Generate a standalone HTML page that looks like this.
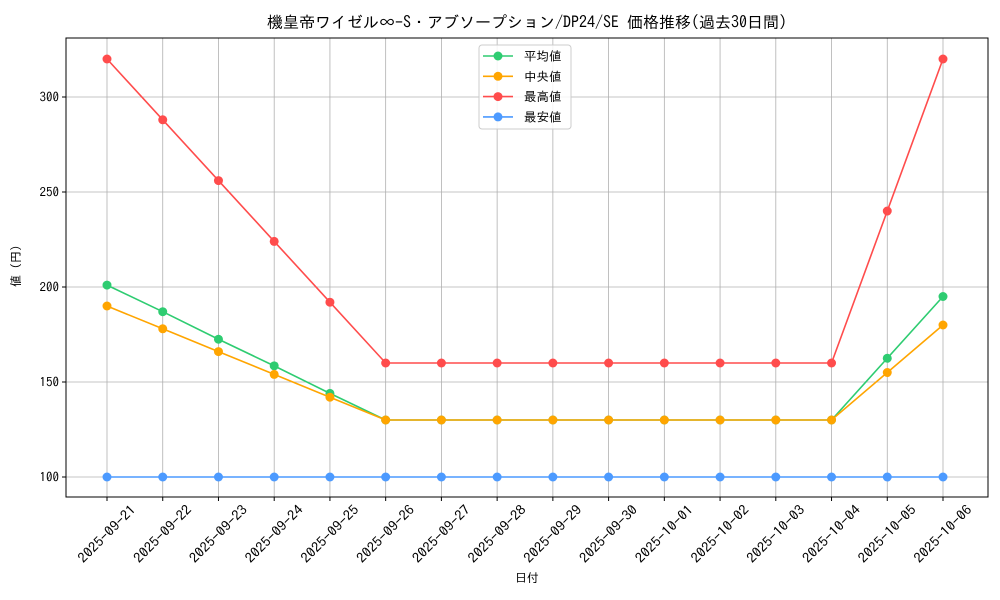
<!DOCTYPE html>
<html><head><meta charset="utf-8"><style>
body{margin:0;background:#fff}
svg{display:block;font-family:"IPAGothic","Liberation Sans","Noto Sans CJK JP",sans-serif}
</style></head><body>
<svg id="c" width="1000" height="600">
<rect width="1000" height="600" fill="#fff"/>
<text x="527" y="28" text-anchor="middle" font-size="16">機皇帝ワイゼル∞-S・アブソープション/DP24/SE 価格推移(過去30日間)</text>
<g id="grid"></g><g id="axes"></g><g id="series"></g>
<rect x="66" y="38" width="922" height="459" fill="none" stroke="#000" stroke-width="1"/>
<text x="527" y="582" text-anchor="middle" font-size="12">日付</text>
<text transform="translate(20,266) rotate(-90)" text-anchor="middle" font-size="12">値 (円)</text>
<g id="legend">
<rect x="479" y="45" width="92" height="84" rx="3" fill="#fff" fill-opacity="0.85" stroke="#ccc"/>
</g>
</svg>
<script>
const categories=["2025-09-21","2025-09-22","2025-09-23","2025-09-24","2025-09-25","2025-09-26","2025-09-27","2025-09-28","2025-09-29","2025-09-30","2025-10-01","2025-10-02","2025-10-03","2025-10-04","2025-10-05","2025-10-06"];
const avgValues=[201,187,172.5,158.5,144,130,130,130,130,130,130,130,130,130,162.5,195];
const medianValues=[190,178,166,154,142,130,130,130,130,130,130,130,130,130,155,180];
const maxValues=[320,288,256,224,192,160,160,160,160,160,160,160,160,160,240,320];
const minValues=[100,100,100,100,100,100,100,100,100,100,100,100,100,100,100,100];
const yTicks=[100,150,200,250,300];
const seriesNames=["平均値","中央値","最高値","最安値"];
const NS="http://www.w3.org/2000/svg";
const x=i=>107+i*(943-107)/(categories.length-1);
const y=v=>477-(v-100)*1.9;
function mk(t,a,p){const e=document.createElementNS(NS,t);for(const k in a)e.setAttribute(k,a[k]);p.appendChild(e);return e;}
const G=document.getElementById('grid'),A=document.getElementById('axes'),S=document.getElementById('series'),L=document.getElementById('legend');
categories.forEach((c,i)=>{
 const gl=mk('line',{x1:x(i),x2:x(i),y1:38,y2:497,stroke:'#b0b0b0','stroke-width':0.8},G);
 
 mk('line',{x1:x(i),x2:x(i),y1:497,y2:501,stroke:'#000'},A);
 const t=mk('text',{x:0,y:4.5,'font-size':13.5,'text-anchor':'middle',textLength:75,lengthAdjust:'spacingAndGlyphs',transform:`translate(${x(i)},${534}) rotate(-45)`},A);
 t.textContent=c;
 
});
yTicks.forEach(v=>{
 const gl=mk('line',{x1:66,x2:988,y1:y(v),y2:y(v),stroke:'#b0b0b0','stroke-width':0.8},G);
 
 mk('line',{x1:62,x2:66,y1:y(v),y2:y(v),stroke:'#000'},A);
 const t=mk('text',{x:59,y:y(v)+4.5,'font-size':13,'text-anchor':'end'},A);
 t.textContent=v;
 
});
const all=[avgValues,medianValues,maxValues,minValues];
const colors=['#2ecc71','#ffa500','#ff4c4c','#4c9aff'];
const keys=['average','median','max','min'];
[2,0,1,3].forEach(s=>{
 const g=mk('g',{},S);
 
 mk('polyline',{points:all[s].map((v,i)=>x(i)+','+y(v)).join(' '),fill:'none',stroke:colors[s],'stroke-width':1.6},g);
 all[s].forEach((v,i)=>{const p=mk('circle',{cx:x(i),cy:y(v),r:4.5,fill:colors[s]},g);
  });
});
seriesNames.forEach((n,k)=>{
 const yy=56+k*20.3;
 const g=mk('g',{},L);
 
 mk('line',{x1:483,x2:513,y1:yy,y2:yy,stroke:colors[k],'stroke-width':1.6},g);
 mk('circle',{cx:498,cy:yy,r:4.5,fill:colors[k]},g);
 const t=mk('text',{x:524,y:yy+4.5,'font-size':12.5},g);t.textContent=n;
});
</script>
</body></html>
